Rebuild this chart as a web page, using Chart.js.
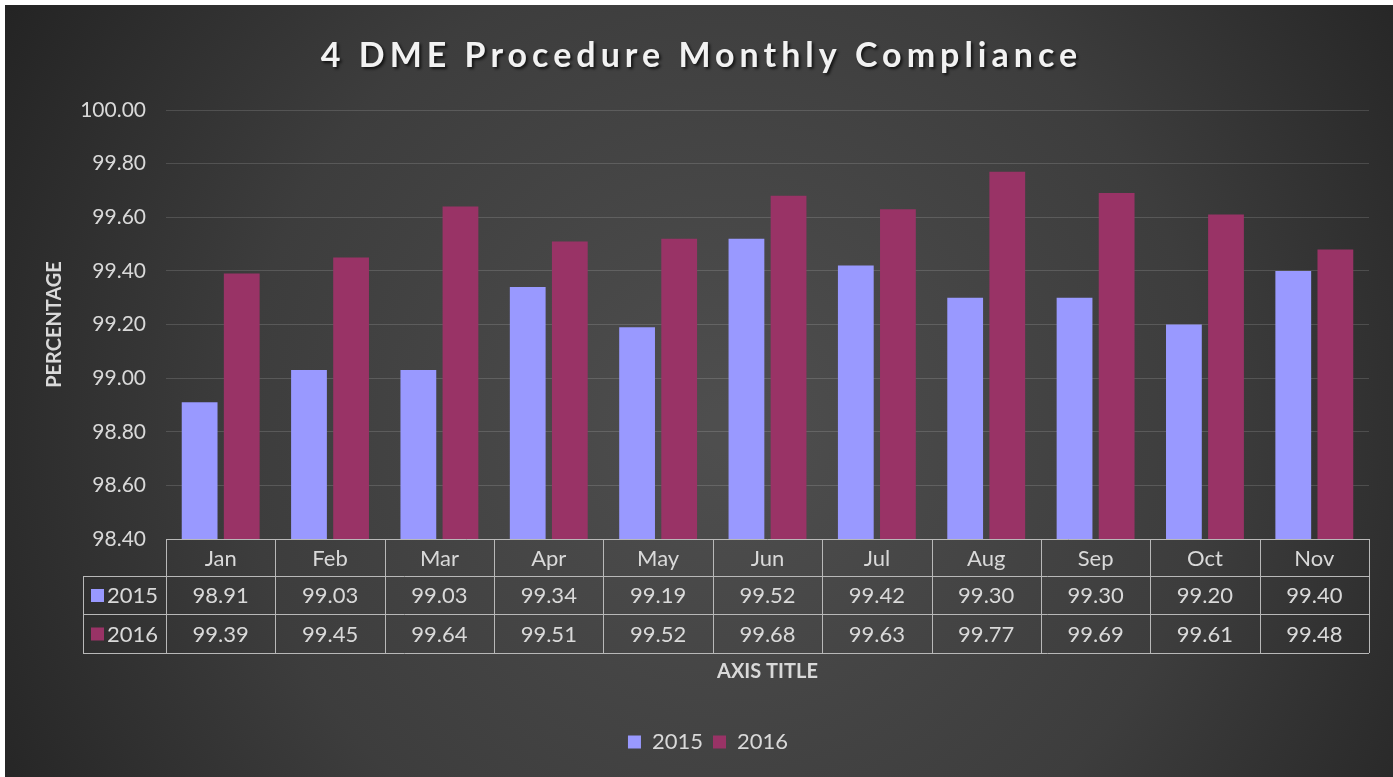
<!DOCTYPE html>
<html>
<head>
<meta charset="utf-8">
<script src="https://cdn.jsdelivr.net/npm/chart.js@4"></script>
<style>
  html, body { margin: 0; padding: 0; background: #fff; }
  #wrap { position: absolute; left: 5px; top: 5px; width: 1388px; height: 772px; }
</style>
</head>
<body>
<div id="wrap"><canvas id="chart"></canvas></div>
<script>
const months = ['Jan', 'Feb', 'Mar', 'Apr', 'May', 'Jun', 'Jul', 'Aug', 'Sep', 'Oct', 'Nov'];
const years = ['2015', '2016'];
const values2015 = [98.91, 99.03, 99.03, 99.34, 99.19, 99.52, 99.42, 99.30, 99.30, 99.20, 99.40];
const values2016 = [99.39, 99.45, 99.64, 99.51, 99.52, 99.68, 99.63, 99.77, 99.69, 99.61, 99.48];
const yMin = 98.4, yMax = 100, yStep = 0.2;
const titleText = '4 DME Procedure Monthly Compliance';

const FONT = 'Lato, "Open Sans", sans-serif';
const TXT = '#d9d9d9';
const colors = ['#9999ff', '#993366'];

// dark radial background + spaced title with shadow
const bgPlugin = {
  id: 'bg',
  afterLayout(chart) {
    // legend sits a bit right of the canvas centre in the original
    chart.legend.left += 21;
    chart.legend.right += 21;
  },
  beforeDraw(chart) {
    const {ctx, width, height} = chart;
    const g = ctx.createRadialGradient(width * 0.52, height * 0.55, 20, width * 0.52, height * 0.55, width * 0.62);
    g.addColorStop(0, '#4e4e4e');
    g.addColorStop(0.55, '#3d3d3d');
    g.addColorStop(1, '#222222');
    ctx.save();
    ctx.fillStyle = g;
    ctx.fillRect(0, 0, width, height);

    ctx.font = 'bold 34px ' + FONT;
    ctx.letterSpacing = '5px';
    ctx.textAlign = 'left';
    ctx.textBaseline = 'middle';
    const w = ctx.measureText(titleText).width - 5;
    ctx.shadowColor = 'rgba(0,0,0,0.7)';
    ctx.shadowOffsetX = 2;
    ctx.shadowOffsetY = 2;
    ctx.shadowBlur = 3;
    ctx.fillStyle = '#f2f2f2';
    ctx.fillText(titleText, 694 - w / 2, 51);
    ctx.restore();
  }
};

// data table under the plot
const tablePlugin = {
  id: 'dataTable',
  afterDraw(chart) {
    const {ctx, chartArea} = chart;
    const x = chart.scales.x;
    const n = months.length;
    const cw = (chartArea.right - chartArea.left) / n;
    const top = chartArea.bottom;
    const rows = [top, top + 37, top + 75, top + 114];
    const leftX = 78;
    ctx.save();
    ctx.strokeStyle = '#b8b8b8';
    ctx.lineWidth = 1;
    ctx.beginPath();
    ctx.moveTo(chartArea.left, rows[0] + 0.5); ctx.lineTo(chartArea.right, rows[0] + 0.5);
    for (let r = 1; r < 4; r++) {
      ctx.moveTo(leftX, rows[r] + 0.5); ctx.lineTo(chartArea.right, rows[r] + 0.5);
    }
    ctx.moveTo(leftX + 0.5, rows[1]); ctx.lineTo(leftX + 0.5, rows[3]);
    for (let i = 0; i <= n; i++) {
      const px = Math.round(chartArea.left + i * cw) + 0.5;
      ctx.moveTo(px, rows[0]); ctx.lineTo(px, rows[3]);
    }
    ctx.stroke();

    ctx.fillStyle = TXT;
    ctx.font = '22px ' + FONT;
    ctx.textAlign = 'center';
    ctx.textBaseline = 'middle';
    const series = [values2015, values2016];
    months.forEach((m, i) => {
      const cx = x.getPixelForValue(i);
      ctx.fillText(m, cx, (rows[0] + rows[1]) / 2 + 1);
      series.forEach((s, k) => {
        ctx.fillText(s[i].toFixed(2), cx, (rows[k + 1] + rows[k + 2]) / 2 + 1);
      });
    });
    ctx.textAlign = 'left';
    years.forEach((y, k) => {
      const cy = (rows[k + 1] + rows[k + 2]) / 2;
      ctx.fillStyle = colors[k];
      ctx.fillRect(leftX + 8, cy - 6, 13, 13);
      ctx.fillStyle = TXT;
      ctx.fillText(y, leftX + 24, cy + 1);
    });
    ctx.restore();
  }
};

const chart = new Chart(document.getElementById('chart'), {
  type: 'bar',
  data: {
    labels: months,
    datasets: [
      { label: years[0], data: values2015, backgroundColor: colors[0] },
      { label: years[1], data: values2016, backgroundColor: colors[1] }
    ]
  },
  options: {
    responsive: true,
    maintainAspectRatio: false,
    animation: false,
    layout: { padding: { left: 0, right: 24, top: 105, bottom: 14 } },
    datasets: { bar: { barPercentage: 0.85, categoryPercentage: 0.77 } },
    scales: {
      x: {
        grid: { display: false },
        border: { display: false },
        ticks: { display: false },
        title: {
          display: true, text: 'AXIS TITLE', color: TXT,
          font: { family: FONT, size: 20, weight: 'bold' },
          padding: { top: 113, bottom: 37 }
        }
      },
      y: {
        min: yMin, max: yMax,
        afterFit(scale) { scale.width = 161; },
        grid: { color: 'rgba(255,255,255,0.14)', drawTicks: false },
        border: { display: false },
        ticks: {
          stepSize: yStep, padding: 20, color: TXT,
          font: { family: FONT, size: 21 },
          callback: v => Number(v).toFixed(2)
        },
        title: {
          display: true, text: 'PERCENTAGE', color: TXT,
          font: { family: FONT, size: 20, weight: 'bold' },
          padding: { top: 38, bottom: 0 }
        }
      }
    },
    plugins: {
      title: { display: false },
      legend: {
        position: 'bottom',
        labels: {
          color: TXT, boxWidth: 13, boxHeight: 13, padding: 10,
          font: { family: FONT, size: 22 }
        }
      },
      tooltip: { enabled: false }
    }
  },
  plugins: [bgPlugin, tablePlugin]
});
</script>
</body>
</html>
